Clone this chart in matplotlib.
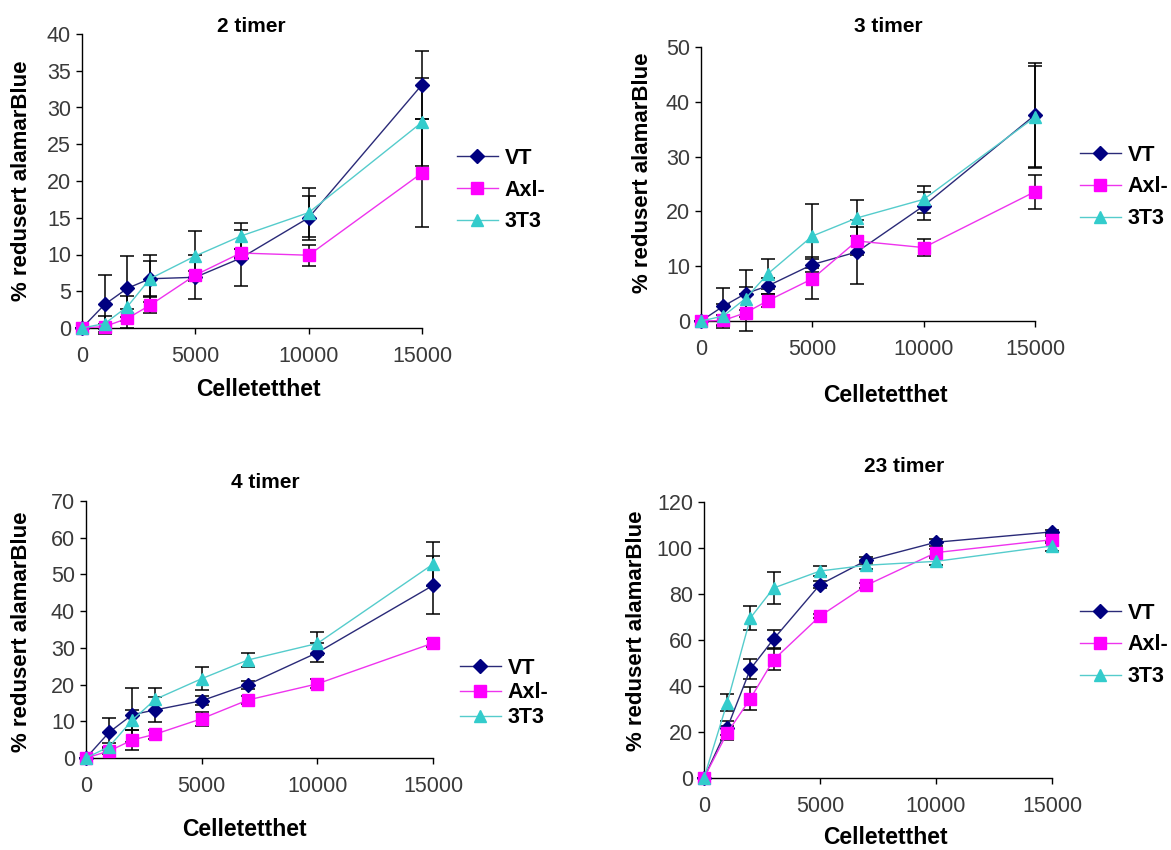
import matplotlib
matplotlib.use("Agg")
import matplotlib.pyplot as plt
import numpy as np

plt.rcParams["font.family"] = ["Liberation Sans", "DejaVu Sans"]

W, H = 1171, 850

cells = [0, 1000, 2000, 3000, 5000, 7000, 10000, 15000]
series_names = ["VT", "Axl-", "3T3"]

# 2 timer
vt_2 = [0, 3.2, 5.4, 6.7, 6.9, 9.5, 15.0, 33.1]
vt_2_err = [0, 4.0, 4.4, 3.2, 3.0, 3.8, 3.0, 4.6]
axl_2 = [0, 0.2, 1.3, 3.1, 7.2, 10.2, 9.9, 21.1]
axl_2_err = [0, 0.4, 1.3, 1.1, 0.6, 0.6, 1.4, 7.3]
t3_2 = [0, 0.6, 2.9, 6.7, 9.8, 12.5, 15.7, 28.0]
t3_2_err = [0, 1.1, 1.4, 2.4, 3.4, 1.8, 3.3, 6.0]

# 3 timer
vt_3 = [0, 2.7, 5.0, 6.4, 10.3, 12.6, 21.0, 37.6]
vt_3_err = [0, 3.4, 4.3, 1.5, 1.4, 5.8, 2.6, 9.5]
axl_3 = [0, 0.1, 1.5, 3.7, 7.7, 14.6, 13.4, 23.6]
axl_3_err = [0, 1.0, 3.4, 1.2, 3.7, 2.5, 1.5, 3.1]
t3_3 = [0, 0.9, 4.1, 8.6, 15.5, 18.8, 22.2, 37.2]
t3_3_err = [0, 2.2, 2.1, 2.8, 5.8, 3.3, 2.5, 9.3]

# 4 timer
vt_4 = [0, 7.0, 11.8, 13.1, 15.6, 20.0, 28.7, 47.0]
vt_4_err = [0, 3.9, 7.4, 3.4, 1.3, 1.1, 2.5, 7.9]
axl_4 = [0, 1.9, 4.9, 6.5, 10.7, 15.8, 20.2, 31.3]
axl_4_err = [0, 0.7, 2.6, 1.2, 1.9, 1.1, 1.2, 1.0]
t3_4 = [0, 3.1, 10.3, 16.0, 21.6, 26.7, 31.2, 52.8]
t3_4_err = [0, 1.0, 2.8, 3.2, 3.2, 2.0, 3.1, 6.0]

# 23 timer
vt_23 = [0, 21.7, 47.4, 60.4, 84.1, 94.6, 102.5, 107.0]
vt_23_err = [0, 3.0, 4.5, 4.0, 1.5, 1.5, 1.5, 1.0]
axl_23 = [0, 19.6, 34.5, 51.4, 70.4, 83.8, 98.0, 103.6]
axl_23_err = [0, 3.0, 5.0, 4.5, 1.0, 1.0, 1.5, 1.5]
t3_23 = [0, 32.8, 69.6, 82.6, 90.0, 92.5, 94.2, 100.9]
t3_23_err = [0, 3.6, 5.2, 7.0, 2.0, 1.5, 1.5, 2.0]

colors = {"VT": "#000080", "Axl-": "#FF00FF", "3T3": "#33CCCC"}
line_colors = {"VT": "#2a2a78", "Axl-": "#ee33ee", "3T3": "#55cccc"}
markers = {"VT": ("D", 7), "Axl-": ("s", 8.5), "3T3": ("^", 8.5)}


def fx(x):
    return x / W


def fy(y):
    return 1 - y / H


def axes_rect(left, top, right, bottom):
    return [fx(left), fy(bottom), (right - left) / W, (bottom - top) / H]


panels = [
    dict(title="2 timer", rect=(82, 34, 422, 328), ymax=40, ystep=5,
         data=[(vt_2, vt_2_err), (axl_2, axl_2_err), (t3_2, t3_2_err)],
         title_xy=(251, 26), xl_xy=(258, 389), yl_xy=(22, 181),
         leg_xy=(457, 190), leg_spacing=0.5),
    dict(title="3 timer", rect=(701, 47, 1035, 321), ymax=50, ystep=10,
         data=[(vt_3, vt_3_err), (axl_3, axl_3_err), (t3_3, t3_3_err)],
         title_xy=(888, 27), xl_xy=(885, 395), yl_xy=(643, 173),
         leg_xy=(1080, 187), leg_spacing=0.5),
    dict(title="4 timer", rect=(86, 501, 433, 758), ymax=70, ystep=10,
         data=[(vt_4, vt_4_err), (axl_4, axl_4_err), (t3_4, t3_4_err)],
         title_xy=(265, 483), xl_xy=(244, 830), yl_xy=(22, 632),
         leg_xy=(460, 693), leg_spacing=0.17),
    dict(title="23 timer", rect=(704, 502, 1052, 778), ymax=120, ystep=20,
         data=[(vt_23, vt_23_err), (axl_23, axl_23_err), (t3_23, t3_23_err)],
         title_xy=(904, 467), xl_xy=(885, 838), yl_xy=(637, 631),
         leg_xy=(1080, 645), leg_spacing=0.5),
]

fig = plt.figure(figsize=(W / 100, H / 100), dpi=100)

for p in panels:
    ax = fig.add_axes(axes_rect(*p["rect"]))
    for name, (vals, errs) in zip(series_names, p["data"]):
        m, ms = markers[name]
        ax.errorbar(cells, vals, yerr=errs, fmt="none", ecolor="black",
                    elinewidth=1.1, capsize=5, capthick=1.1, zorder=2,
                    clip_on=False)
        ax.plot(cells, vals, color=line_colors[name], lw=1.0, marker=m,
                ms=ms, mfc=colors[name], mec=colors[name], label=name,
                zorder=3, clip_on=False)
    ax.set_xlim(0, 15000)
    ax.set_ylim(0, p["ymax"])
    ax.set_xticks([0, 5000, 10000, 15000])
    ax.set_yticks(np.arange(0, p["ymax"] + 1, p["ystep"]))
    for s in ("top", "right"):
        ax.spines[s].set_visible(False)
    for s in ("left", "bottom"):
        ax.spines[s].set_linewidth(1.0)
        ax.spines[s].set_color("black")
    ax.tick_params(axis="both", direction="out", length=4, width=1.0,
                   labelsize=15.5, labelcolor="#3a3a3a")
    ax.tick_params(axis="x", pad=9)
    ax.tick_params(axis="y", pad=4)
    ax.set_facecolor("none")

    fig.text(fx(p["title_xy"][0]), fy(p["title_xy"][1]), p["title"],
             ha="center", va="center", fontsize=15, fontweight="bold")
    fig.text(fx(p["xl_xy"][0]), fy(p["xl_xy"][1]), "Celletetthet",
             ha="center", va="center", fontsize=16.5, fontweight="bold")
    fig.text(fx(p["yl_xy"][0]), fy(p["yl_xy"][1]), "% redusert alamarBlue",
             ha="center", va="center", rotation=90, fontsize=16,
             fontweight="bold")

    ax.legend(loc="center left",
              bbox_to_anchor=(fx(p["leg_xy"][0]), fy(p["leg_xy"][1])),
              bbox_transform=fig.transFigure, frameon=False, borderpad=0,
              borderaxespad=0, handlelength=1.9, handletextpad=0.3,
              labelspacing=p["leg_spacing"],
              prop={"size": 15.5, "weight": "bold"})

fig.savefig("out.png", dpi=100, facecolor="white")
